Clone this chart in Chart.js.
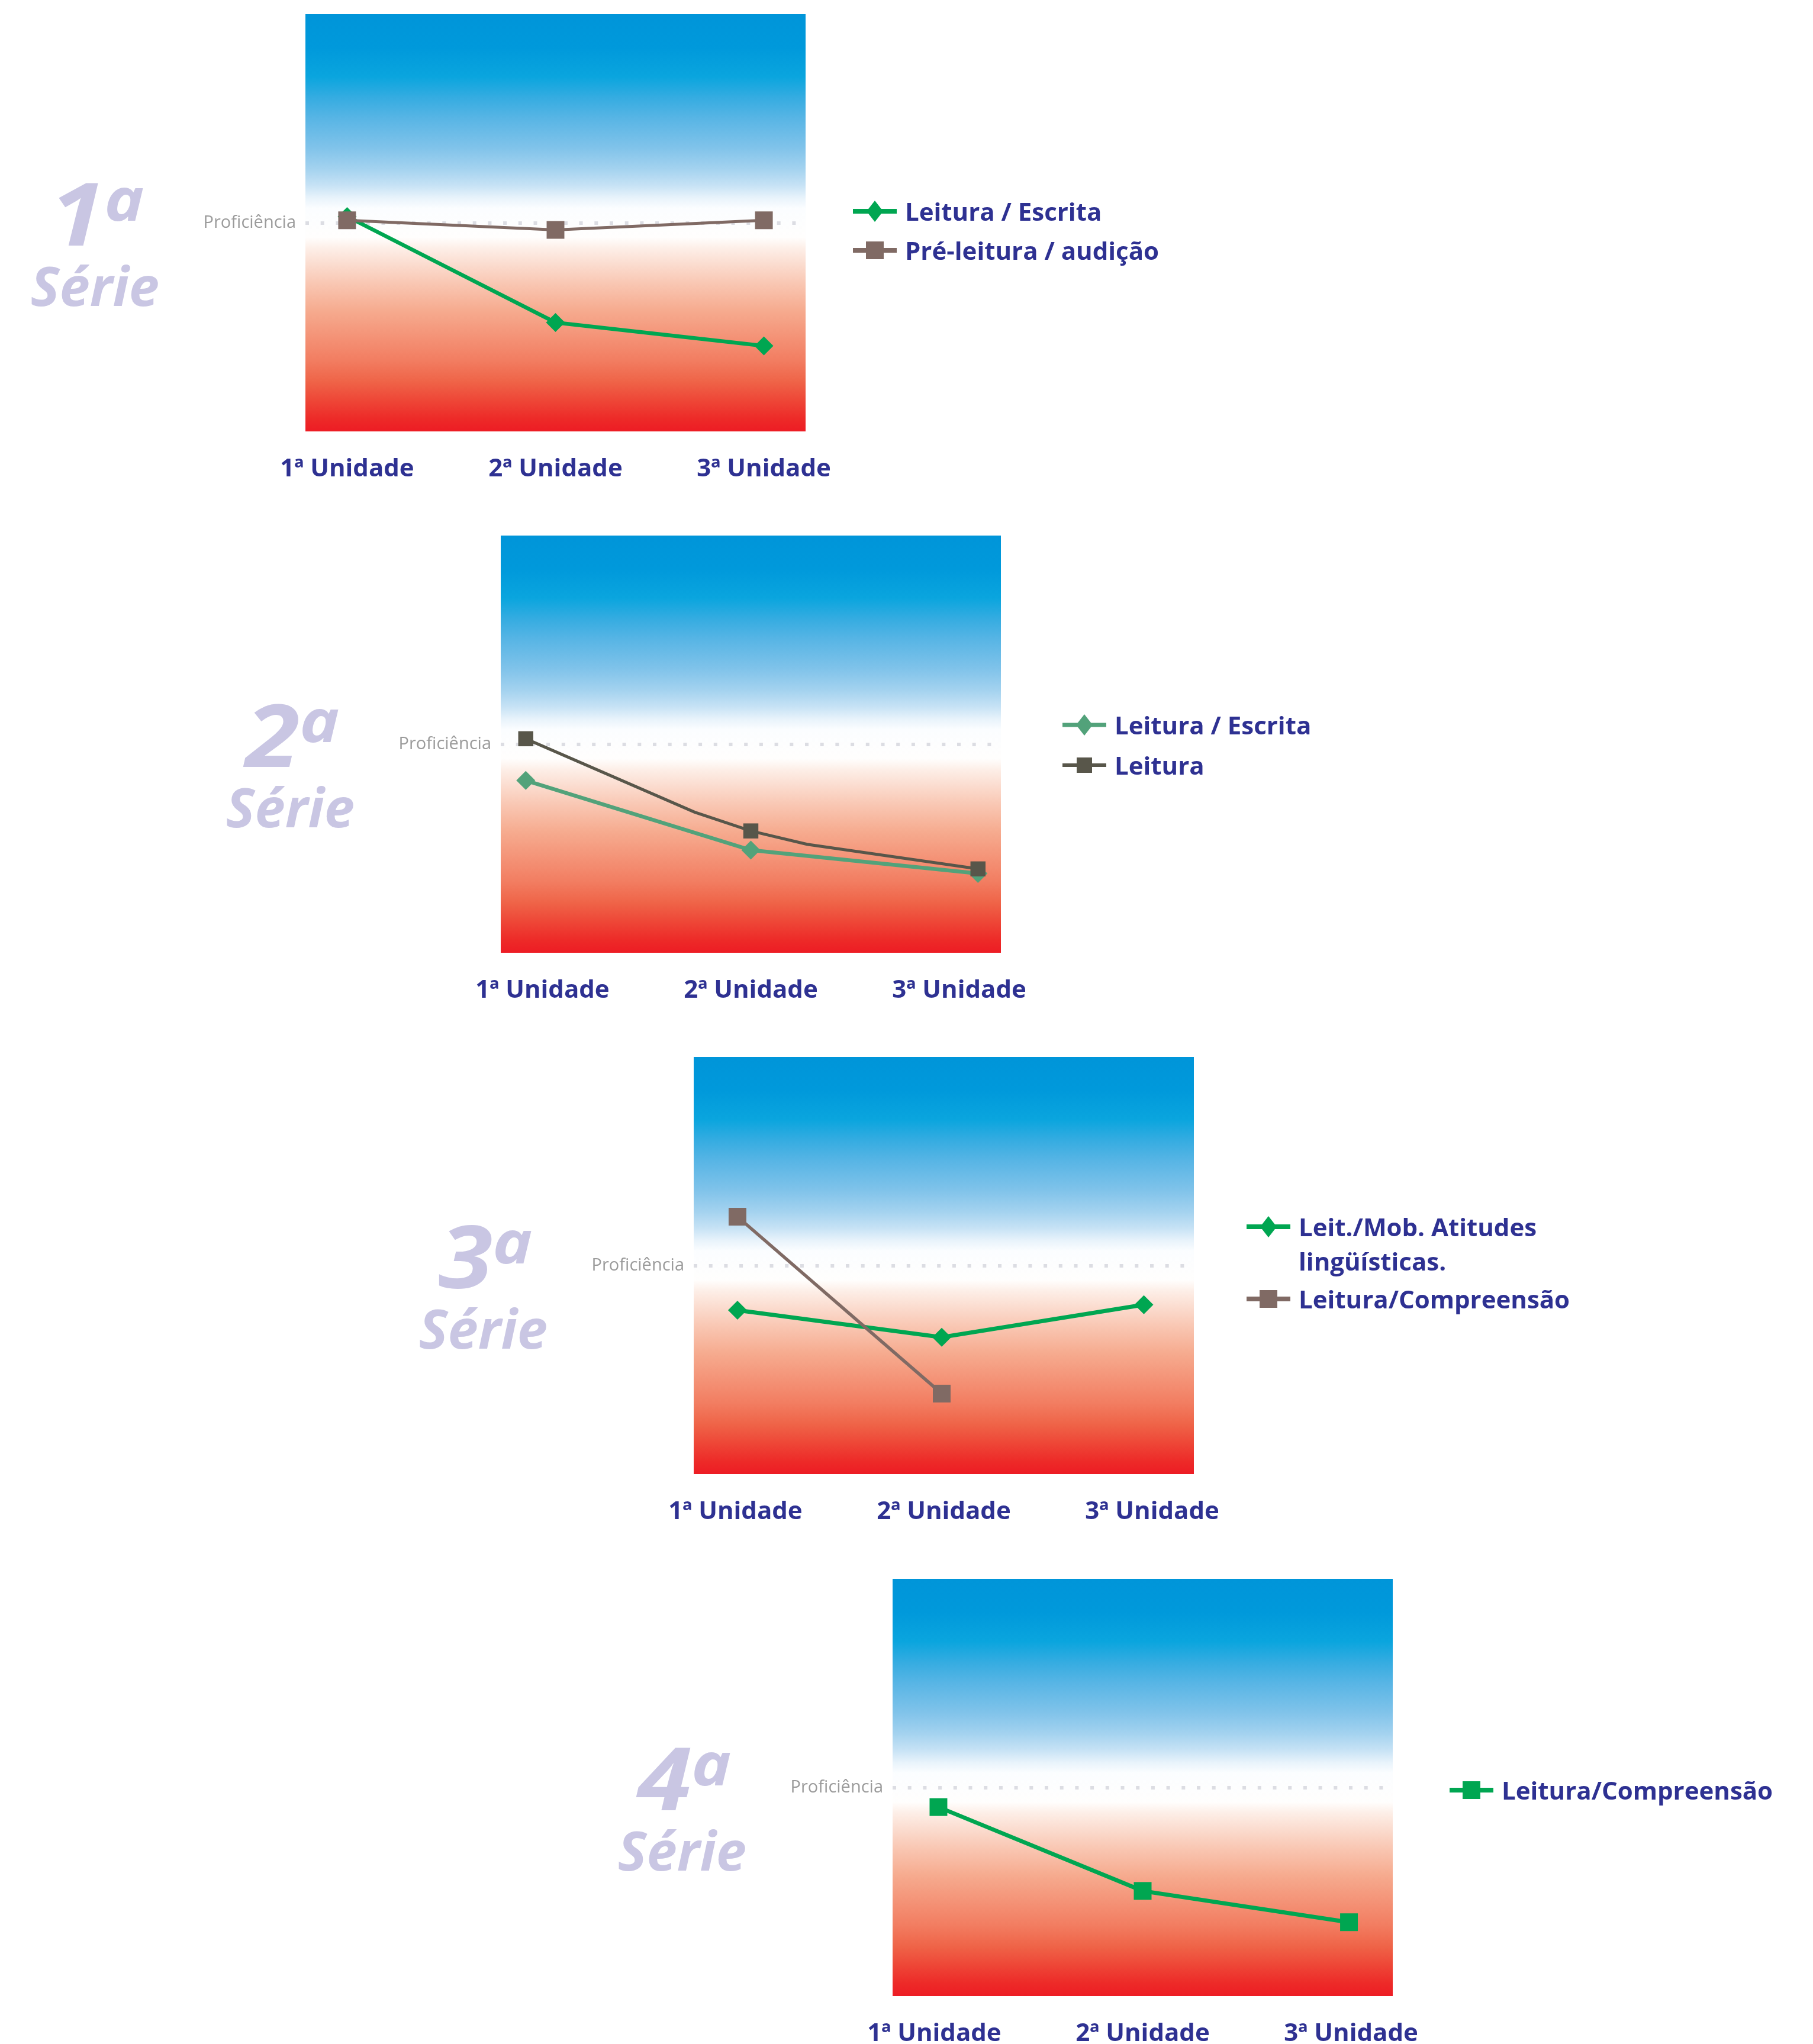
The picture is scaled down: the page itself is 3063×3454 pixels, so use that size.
<!DOCTYPE html>
<html>
<head>
<meta charset="utf-8">
<script src="https://cdn.jsdelivr.net/npm/chart.js@4.4.1/dist/chart.umd.min.js"></script>
<style>
html,body{margin:0;padding:0;background:#fff;}
body{width:3063px;height:3454px;position:relative;overflow:hidden;font-family:'Open Sans',sans-serif;}
.panel{position:absolute;width:0;height:0;}
.panel canvas{position:absolute;}
.num{position:absolute;white-space:nowrap;font-style:italic;font-weight:700;color:#c9c6e3;line-height:1;font-size:147px;transform:scaleX(1.13);transform-origin:right center;}
.num span{font-size:100px;position:relative;top:-42px;}
.serie{position:absolute;white-space:nowrap;font-style:italic;font-weight:700;color:#c9c6e3;line-height:1;font-size:92px;}
.leg{position:absolute;display:flex;align-items:flex-start;white-space:nowrap;font-weight:700;font-size:42px;line-height:58px;color:#2e3192;}
.leg svg{flex:none;margin-right:14px;}
</style>
</head>
<body>
<script>
// ---------- data ----------
const categories = ['1ª Unidade', '2ª Unidade', '3ª Unidade'];
const profLevel = 50;
const profLabel = 'Proficiência';
const serieNames = ['1', '2', '3', '4'];

// 1ª Série
const s1X = [0, 1, 2];
const s1LeituraEscrita = [51.5, 26.1, 20.5];
const s1PreLeitura = [50.6, 48.3, 50.6];
const s1Labels = ['Leitura / Escrita', 'Pré-leitura / audição'];

// 2ª Série
const s2X = [-0.08, 1.0, 2.09];
const s2LeituraEscrita = [41.3, 24.6, 19.0];
const s2LeituraX = [-0.08, 0.73, 1.0, 1.27, 2.09];
const s2Leitura = [51.3, 33.7, 29.2, 26.0, 20.1];
const s2Labels = ['Leitura / Escrita', 'Leitura'];

// 3ª Série
const s3X = [0.01, 0.99, 1.96];
const s3LeitMob = [39.3, 32.8, 40.6];
const s3Compreensao = [61.7, 19.3];
const s3Labels = ['Leit./Mob. Atitudes', 'lingüísticas.', 'Leitura/Compreensão'];

// 4ª Série
const s4X = [0.02, 1.0, 1.99];
const s4Compreensao = [45.3, 25.2, 17.7];
const s4Labels = ['Leitura/Compreensão'];

// ---------- styles / layout ----------
const GREEN = '#00a651', BROWN = '#806a64', GREEN2 = '#52a27a', DARK2 = '#58564a';
const PLOT_W = 845, PLOT_H = 705, AXIS_W = 420, TOP_PAD = 24, RIGHT_PAD = 130, XAXIS_H = 100;

const gradStops = [
  [0.00, '#0095d9'], [0.08, '#0099db'], [0.15, '#0aa5de'], [0.20, '#35ace1'],
  [0.25, '#58b5e5'], [0.32, '#80c3ea'], [0.37, '#a3d2ef'], [0.41, '#c6e2f5'],
  [0.44, '#e8f3fb'], [0.465, '#fbfdff'], [0.535, '#fffefd'], [0.56, '#fdefe8'],
  [0.60, '#fbdccf'], [0.645, '#f9c7b3'], [0.71, '#f6ab8f'], [0.775, '#f49276'],
  [0.83, '#f27d61'], [0.88, '#ef6448'], [0.925, '#ee4737'], [0.97, '#ed2a28'], [1.00, '#ed1c24']
];

const bgPlugin = {
  id: 'bgGradient',
  beforeDraw(chart) {
    const { ctx, chartArea: a } = chart;
    const g = ctx.createLinearGradient(0, a.top, 0, a.bottom);
    gradStops.forEach(s => g.addColorStop(s[0], s[1]));
    ctx.save();
    ctx.fillStyle = g;
    ctx.fillRect(a.left, a.top, a.right - a.left, a.bottom - a.top);
    ctx.restore();
  }
};

function xy(xs, ys) { return ys.map((y, i) => ({ x: xs[i], y })); }

function makePanel(p) {
  const div = document.createElement('div');
  div.className = 'panel';
  div.style.left = p.left + 'px';
  div.style.top = p.top + 'px';
  document.body.appendChild(div);

  const cv = document.createElement('canvas');
  const cw = AXIS_W + PLOT_W + RIGHT_PAD, ch = TOP_PAD + PLOT_H + XAXIS_H;
  cv.width = cw; cv.height = ch;
  cv.style.width = cw + 'px'; cv.style.height = ch + 'px';
  cv.style.left = (-AXIS_W) + 'px';
  cv.style.top = (-TOP_PAD) + 'px';
  div.appendChild(cv);

  new Chart(cv, {
    type: 'line',
    data: { datasets: p.datasets },
    options: {
      responsive: false, animation: false, devicePixelRatio: 1, events: [],
      layout: { padding: { left: 0, top: TOP_PAD, right: RIGHT_PAD, bottom: 0 } },
      plugins: { legend: { display: false }, tooltip: { enabled: false } },
      scales: {
        x: {
          type: 'linear', min: -0.2, max: 2.2,
          grid: { display: false, drawTicks: false }, border: { display: false },
          afterBuildTicks: s => { s.ticks = categories.map((c, i) => ({ value: i })); },
          afterFit: s => { s.height = XAXIS_H; s.paddingLeft = 0; s.paddingRight = 0; },
          ticks: {
            autoSkip: false, maxRotation: 0, minRotation: 0, padding: 39, color: '#2e3192',
            font: { family: 'Open Sans', weight: 'bold', size: 42 },
            callback: v => categories[Math.round(v)]
          }
        },
        y: {
          min: 0, max: 100,
          afterBuildTicks: s => { s.ticks = [{ value: profLevel }]; },
          afterFit: s => { s.width = AXIS_W; s.paddingTop = 0; s.paddingBottom = 0; },
          grid: { color: '#dcdde3', lineWidth: 6, drawTicks: false },
          border: { display: false, dash: [6, 19.7] },
          ticks: {
            padding: 16, color: '#9b9b9b',
            font: { family: 'Open Sans', size: 29 },
            callback: () => profLabel
          }
        }
      }
    },
    plugins: [bgPlugin]
  });

  const num = document.createElement('div');
  num.className = 'num';
  num.style.right = '273px'; num.style.top = '261px';
  num.innerHTML = p.serie + '<span>a</span>';
  div.appendChild(num);
  const se = document.createElement('div');
  se.className = 'serie';
  se.style.right = '247px'; se.style.top = '412px';
  se.textContent = 'Série';
  div.appendChild(se);

  p.legend.forEach(l => {
    const row = document.createElement('div');
    row.className = 'leg';
    row.style.left = p.legLeft + 'px';
    row.style.top = (l.cy - 27) + 'px';
    let marker;
    if (l.shape === 'diamond') {
      marker = `<polygon points="37,11 51,29 37,47 23,29" fill="${l.color}"/>`;
    } else {
      const s = l.size || 30;
      marker = `<rect x="${37 - s / 2}" y="${29 - s / 2}" width="${s}" height="${s}" fill="${l.color}"/>`;
    }
    row.innerHTML = `<svg width="74" height="58" viewBox="0 0 74 58"><line x1="0" y1="29" x2="74" y2="29" stroke="${l.color}" stroke-width="${l.lw || 8}"/>${marker}</svg><div>${l.text}</div>`;
    div.appendChild(row);
  });
}

const panels = [
  {
    left: 516, top: 24, serie: serieNames[0], legLeft: 925,
    datasets: [
      { label: s1Labels[0], data: xy(s1X, s1LeituraEscrita), borderColor: GREEN, backgroundColor: GREEN,
        borderWidth: 6.5, pointStyle: 'rectRot', pointRadius: 16, pointBorderWidth: 0, order: 2 },
      { label: s1Labels[1], data: xy(s1X, s1PreLeitura), borderColor: BROWN, backgroundColor: BROWN,
        borderWidth: 5, pointStyle: 'rect', pointRadius: 21.2, pointBorderWidth: 0, order: 1 }
    ],
    legend: [
      { text: s1Labels[0], color: GREEN, shape: 'diamond', cy: 331 },
      { text: s1Labels[1], color: BROWN, shape: 'square', cy: 397 }
    ]
  },
  {
    left: 846, top: 905, serie: serieNames[1], legLeft: 949,
    datasets: [
      { label: s2Labels[0], data: xy(s2X, s2LeituraEscrita), borderColor: GREEN2, backgroundColor: GREEN2,
        borderWidth: 6.5, pointStyle: 'rectRot', pointRadius: 16, pointBorderWidth: 0, order: 2 },
      { label: s2Labels[1], data: xy(s2LeituraX, s2Leitura), borderColor: DARK2, backgroundColor: DARK2,
        borderWidth: 5, pointStyle: 'rect', pointRadius: [18, 0, 18, 0, 18], pointBorderWidth: 0, order: 1 }
    ],
    legend: [
      { text: s2Labels[0], color: GREEN2, shape: 'diamond', cy: 318, lw: 7 },
      { text: s2Labels[1], color: DARK2, shape: 'square', cy: 386, lw: 6, size: 26 }
    ]
  },
  {
    left: 1172, top: 1786, serie: serieNames[2], legLeft: 934,
    datasets: [
      { label: s3Labels[0] + ' ' + s3Labels[1], data: xy(s3X, s3LeitMob), borderColor: GREEN, backgroundColor: GREEN,
        borderWidth: 7, pointStyle: 'rectRot', pointRadius: 16, pointBorderWidth: 0, order: 2 },
      { label: s3Labels[2], data: xy(s3X, s3Compreensao), borderColor: BROWN, backgroundColor: BROWN,
        borderWidth: 5.5, pointStyle: 'rect', pointRadius: 21.2, pointBorderWidth: 0, order: 1 }
    ],
    legend: [
      { text: s3Labels[0] + '<br>' + s3Labels[1], color: GREEN, shape: 'diamond', cy: 285 },
      { text: s3Labels[2], color: BROWN, shape: 'square', cy: 407 }
    ]
  },
  {
    left: 1508, top: 2668, serie: serieNames[3], legLeft: 941,
    datasets: [
      { label: s4Labels[0], data: xy(s4X, s4Compreensao), borderColor: GREEN, backgroundColor: GREEN,
        borderWidth: 7, pointStyle: 'rect', pointRadius: 21.2, pointBorderWidth: 0, order: 1 }
    ],
    legend: [
      { text: s4Labels[0], color: GREEN, shape: 'square', cy: 355 }
    ]
  }
];

panels.forEach(makePanel);
</script>
</body>
</html>
